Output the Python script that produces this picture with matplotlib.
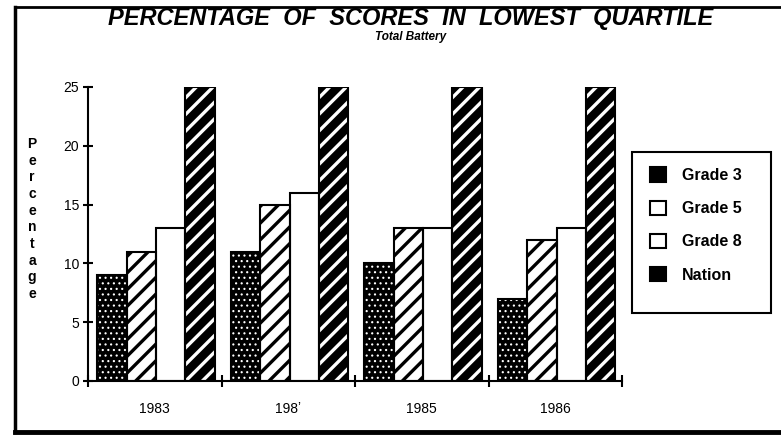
import matplotlib
matplotlib.use("Agg")
import matplotlib.pyplot as plt
import numpy as np
from matplotlib.patches import Rectangle
from matplotlib.lines import Line2D

years = ["1983", "198\u02bc", "1985", "1986"]
series = ["Grade 3", "Grade 5", "Grade 8", "Nation"]
grade3 = [9, 11, 10, 7]
grade5 = [11, 15, 13, 12]
grade8 = [13, 16, 13, 13]
nation = [25, 25, 25, 25]

plt.rcParams['font.family'] = ['Liberation Sans', 'DejaVu Sans']
plt.rcParams['hatch.linewidth'] = 2.4

fig = plt.figure(figsize=(7.81, 4.37), dpi=100)
ax = fig.add_axes([88/781, 1-381/437, (622-88)/781, (381-87)/437])

x = np.arange(len(years))
w = 0.22
offs = (np.arange(4) - 1.5) * w + 0.01

# (face, hatch colour, hatch, hatch width)
styles = [
    ('black', 'white', '...', 0.8),
    ('white', 'black', '//', 2.4),
    ('white', 'white', '', 1.0),
    ('black', 'white', '//', 2.4),
]
handles = []
for vals, off, (fc, hc, hatch, hw), name in zip([grade3, grade5, grade8, nation], offs, styles, series):
    bars = ax.bar(x + off, vals, w, color=fc, edgecolor=hc, hatch=hatch, linewidth=0, zorder=2)
    for b in bars:
        try:
            b.set_hatch_linewidth(hw)
        except AttributeError:
            pass
    ax.bar(x + off, vals, w, fill=False, edgecolor='black', linewidth=1.5, zorder=3)
    handles.append(Rectangle((0, 0), 1, 1, facecolor=fc, edgecolor='black', linewidth=1.5))

ax.set_xlim(-0.5, 3.5)
ax.set_ylim(0, 25)
ax.spines['top'].set_visible(False)
ax.spines['right'].set_visible(False)
ax.spines['left'].set_linewidth(1.5)
ax.spines['bottom'].set_linewidth(1.5)
ax.set_yticks([0, 5, 10, 15, 20, 25])
ax.tick_params(axis='y', direction='inout', length=7, width=1.5, labelsize=10, pad=3)
ax.set_xticks(np.arange(-0.5, 4, 1))
ax.set_xticklabels([])
ax.set_xticks(x, minor=True)
ax.set_xticklabels(years, minor=True)
ax.tick_params(axis='x', which='major', direction='inout', length=8, width=1.5)
ax.tick_params(axis='x', which='minor', length=0, labelsize=10, pad=15)

fig.text(411/781, 1-18/437, "PERCENTAGE  OF  SCORES  IN  LOWEST  QUARTILE",
         ha='center', va='center', fontsize=17, fontweight='bold', style='italic')
fig.text(411/781, 1-37/437, "Total Battery", ha='center', va='center',
         fontsize=8.5, fontweight='bold', style='italic')
fig.text(32/781, 1-219/437, "\n".join("Percentage"), ha='center', va='center',
         fontsize=10, fontweight='bold', linespacing=1.24)

# legend box
fig.patches.append(Rectangle((632/781, 1-313/437), (771-632)/781, (313-152)/437,
                             transform=fig.transFigure, fill=False, edgecolor='black', linewidth=1.5))
fig.legend(handles, series, loc='upper left', bbox_to_anchor=(636/781, 1-153/437),
           frameon=False, handlelength=1.0, handleheight=1.0,
           handletextpad=1.0, labelspacing=1.1, prop={'weight': 'bold', 'size': 11.5})

# outer frame
fig.add_artist(Line2D([15/781, 15/781], [1-432/437, 1-7/437], transform=fig.transFigure, color='black', linewidth=2.5))
fig.add_artist(Line2D([15/781, 1.0], [1-7/437, 1-7/437], transform=fig.transFigure, color='black', linewidth=2))
fig.add_artist(Line2D([15/781, 1.0], [1-432/437, 1-432/437], transform=fig.transFigure, color='black', linewidth=3.5))

fig.savefig("out.png", dpi=100)
